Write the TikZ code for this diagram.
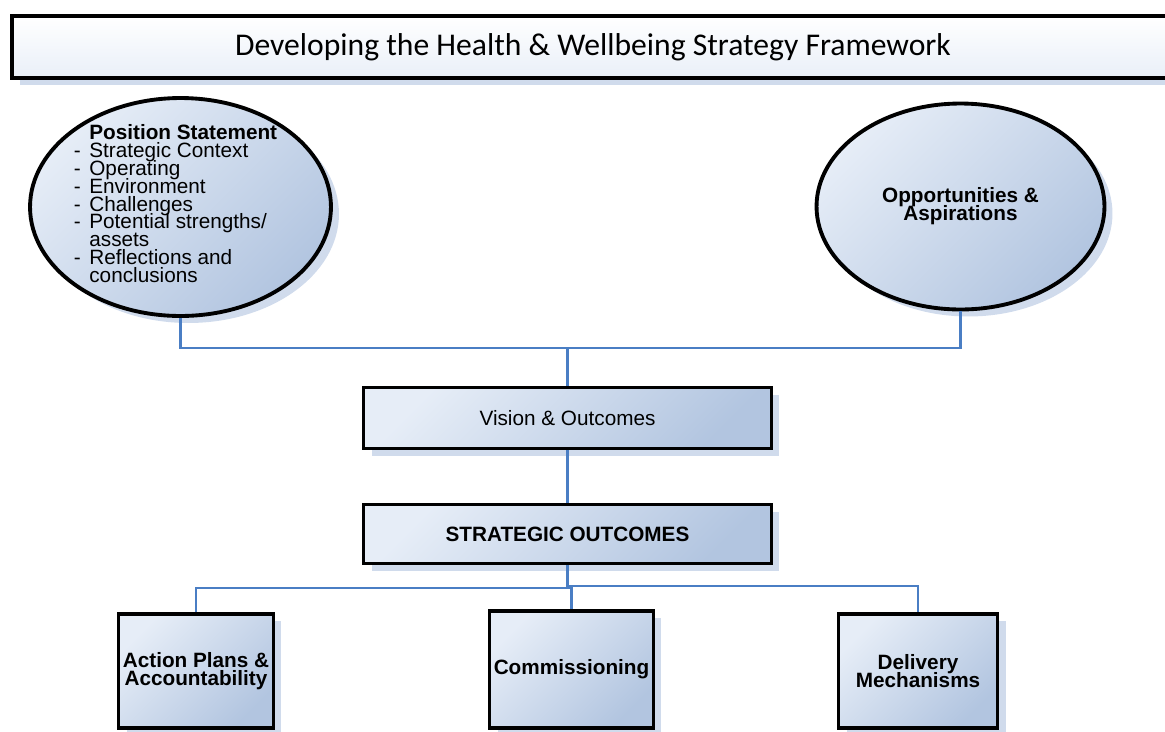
\documentclass[tikz,border=0pt]{standalone}
\usepackage{fontspec}
\setmainfont{Liberation Sans}
\newfontfamily\titlefont{Carlito}
\usetikzlibrary{shapes.geometric,shadows}
\definecolor{gLight}{HTML}{E6EDF7}
\definecolor{gDark}{HTML}{B2C5E0}
\definecolor{tLight}{HTML}{FFFFFF}
\definecolor{tDark}{HTML}{E9EFF8}
\definecolor{shd}{HTML}{D0DBEC}
\definecolor{conn}{HTML}{4A7EC4}
\newcommand\tightlines{\lineskiplimit=-20pt\relax\lineskip=0pt\relax}
\newdimen\pxu \pxu=0.5669pt
\begin{document}
\begin{tikzpicture}[x=0.02cm,y=-0.02cm,
  framed/.style={draw=black, line width=2.2pt, top color=gLight, bottom color=gDark, shading angle=45,
    general shadow={fill=shd, shadow xshift=0.16cm, shadow yshift=-0.14cm}, inner sep=1pt, align=center},
  boxstyle/.style={framed, rectangle},
  ellstyle/.style={framed, ellipse},
  boldtxt/.style={font={\bfseries\fontsize{11.8}{10.3}\selectfont\tightlines}},
  plaintxt/.style={font={\fontsize{11.8}{10.3}\selectfont\tightlines}},
  connector/.style={draw=conn, line width=1.3pt}
]
\useasboundingbox (0,0) rectangle (1165,731);

% title
\node[framed, rectangle, top color=tLight, bottom color=tDark, shading angle=0,
  minimum width=23.24cm, minimum height=1.24cm, font={\titlefont\fontsize{18}{20}\selectfont}]
  (title) at (593,47) {Developing the Health \& Wellbeing Strategy Framework};

% ellipses
\node[ellstyle, minimum width=6.02cm, minimum height=4.36cm, inner sep=0pt] (pos) at (180.5,207)
  {\makebox[0pt]{\kern-4\pxu\lower2\pxu\hbox{\smash{%
   \begin{minipage}[c]{210\pxu}
   \fontsize{11.8}{18\pxu}\selectfont\tightlines
   \raggedright
   \hspace*{15.5\pxu}\textbf{Position Statement}\\
   \makebox[15.5\pxu][l]{-}Strategic Context\\
   \makebox[15.5\pxu][l]{-}Operating\\
   \makebox[15.5\pxu][l]{-}Environment\\
   \makebox[15.5\pxu][l]{-}Challenges\\
   \makebox[15.5\pxu][l]{-}Potential strengths/\\
   \hspace*{15.5\pxu}assets\\
   \makebox[15.5\pxu][l]{-}Reflections and\\
   \hspace*{15.5\pxu}conclusions
   \end{minipage}}}}};
\node[ellstyle, boldtxt, minimum width=5.76cm, minimum height=4.12cm] (opp) at (960.5,206.5)
  {Opportunities \&\\Aspirations};

% middle boxes
\node[boxstyle, plaintxt, minimum width=8.16cm, minimum height=1.22cm] (vis) at (567.5,418) {Vision \& Outcomes};
\node[boxstyle, boldtxt, minimum width=8.16cm, minimum height=1.18cm] (strat) at (567.5,534) {STRATEGIC OUTCOMES};

% bottom boxes
\node[boxstyle, boldtxt, minimum width=3.1cm, minimum height=2.28cm] (act) at (196,671) {Action Plans \&\\Accountability};
\node[boxstyle, boldtxt, minimum width=3.28cm, minimum height=2.34cm] (comm) at (571.5,669.5) {Commissioning};
\node[boxstyle, boldtxt, minimum width=3.18cm, minimum height=2.28cm] (deliv) at (918,671) {Delivery\\Mechanisms};

% connectors
\coordinate (hbar) at (567.5,348);
\coordinate (jr) at (567.5,586);
\coordinate (jl) at (571.5,588);
\draw[connector] (pos.south) |- (hbar) -| (opp.south);
\draw[connector] (hbar) -- (vis.north);
\draw[connector] (vis.south) -- (strat.north);
\draw[connector] (strat.south) -- (jr) -| (deliv.north);
\draw[connector] (act.north) |- (jl) -- (comm.north);
\end{tikzpicture}
\end{document}
